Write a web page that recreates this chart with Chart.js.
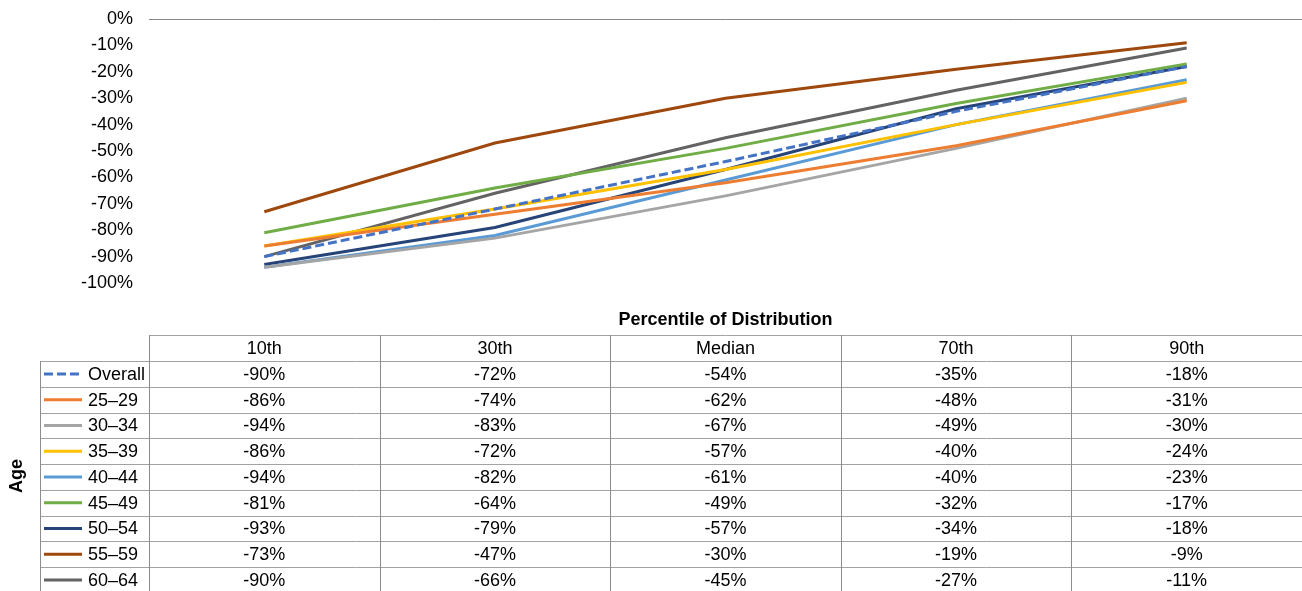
<!DOCTYPE html>
<html>
<head>
<meta charset="utf-8">
<title>Change by percentile and age</title>
<script src="https://cdn.jsdelivr.net/npm/chart.js@4.4.1/dist/chart.umd.min.js"></script>
<style>
  html, body { margin: 0; padding: 0; background: #fff; }
  #wrap { width: 1302px; height: 591px; }
</style>
</head>
<body>
<div id="wrap"><canvas id="ageChart" width="1302" height="591"></canvas></div>
<script>
// percentile columns and age rows
const percentiles = ['10th', '30th', 'Median', '70th', '90th'];
const ageGroups = ['Overall', '25–29', '30–34', '35–39', '40–44', '45–49', '50–54', '55–59', '60–64'];

const overall = [-0.90, -0.72, -0.54, -0.35, -0.18];
const age25to29 = [-0.86, -0.74, -0.62, -0.48, -0.31];
const age30to34 = [-0.94, -0.83, -0.67, -0.49, -0.30];
const age35to39 = [-0.86, -0.72, -0.57, -0.40, -0.24];
const age40to44 = [-0.94, -0.82, -0.61, -0.40, -0.23];
const age45to49 = [-0.81, -0.64, -0.49, -0.32, -0.17];
const age50to54 = [-0.93, -0.79, -0.57, -0.34, -0.18];
const age55to59 = [-0.73, -0.47, -0.30, -0.19, -0.09];
const age60to64 = [-0.90, -0.66, -0.45, -0.27, -0.11];

const yTicks = [0, -0.1, -0.2, -0.3, -0.4, -0.5, -0.6, -0.7, -0.8, -0.9, -1.0];

const seriesValues = [overall, age25to29, age30to34, age35to39, age40to44,
                      age45to49, age50to54, age55to59, age60to64];
const lineColors = ['#4472C4', '#ED7D31', '#A5A5A5', '#FFC000', '#5B9BD5',
                    '#70AD47', '#264478', '#9E480E', '#636363'];

const FONT = '"Liberation Sans", Arial, sans-serif';
const pct = v => Math.round(v * 100) + '%';

// Excel-style data table under the plot, aligned to the x scale bands
const dataTable = {
  id: 'dataTable',
  afterDraw(chart) {
    const ctx = chart.ctx;
    const xs = chart.scales.x;
    const area = chart.chartArea;
    const sets = chart.data.datasets;
    const band = (area.right - area.left) / percentiles.length;
    const titleY = 320, headTop = 335, headH = 26, rowH = 25.75, keyLeft = 40;
    const bodyTop = headTop + headH;
    const bottom = bodyTop + rowH * sets.length;
    const crisp = v => Math.round(v) + 0.5;

    ctx.save();
    ctx.fillStyle = '#000';
    ctx.textAlign = 'center';
    ctx.textBaseline = 'middle';
    ctx.font = 'bold 18px ' + FONT;
    ctx.fillText('Percentile of Distribution', (area.left + area.right) / 2, titleY);

    ctx.save();
    ctx.translate(17, (bodyTop + bottom) / 2 - 1);
    ctx.rotate(-Math.PI / 2);
    ctx.fillText('Age', 0, 0);
    ctx.restore();

    // row borders
    ctx.lineWidth = 1;
    ctx.strokeStyle = '#a3a3a3';
    ctx.beginPath();
    ctx.moveTo(area.left, crisp(headTop));
    ctx.lineTo(area.right, crisp(headTop));
    for (let i = 0; i <= sets.length; i++) {
      const y = crisp(bodyTop + i * rowH);
      ctx.moveTo(keyLeft, y);
      ctx.lineTo(area.right, y);
    }
    ctx.stroke();

    // column borders
    ctx.strokeStyle = '#8c8c8c';
    ctx.beginPath();
    ctx.moveTo(crisp(keyLeft), bodyTop);
    ctx.lineTo(crisp(keyLeft), bottom);
    for (let j = 0; j <= percentiles.length; j++) {
      const x = crisp(area.left + j * band);
      ctx.moveTo(x, headTop);
      ctx.lineTo(x, bottom);
    }
    ctx.stroke();

    // header + values
    ctx.font = '18px ' + FONT;
    percentiles.forEach((p, j) => {
      ctx.fillText(p, xs.getPixelForValue(j), headTop + headH / 2 + 1);
    });
    sets.forEach((ds, i) => {
      const cy = bodyTop + (i + 0.5) * rowH + 1;
      ds.data.forEach((v, j) => {
        ctx.fillText(pct(v), xs.getPixelForValue(j), cy);
      });

      // legend key
      ctx.save();
      ctx.strokeStyle = ds.borderColor;
      ctx.lineWidth = 3;
      ctx.setLineDash(ds.borderDash || []);
      ctx.beginPath();
      ctx.moveTo(44, cy - 1);
      ctx.lineTo(82, cy - 1);
      ctx.stroke();
      ctx.restore();

      ctx.textAlign = 'left';
      ctx.fillText(ds.label, 88, cy);
      ctx.textAlign = 'center';
    });
    ctx.restore();
  }
};

new Chart(document.getElementById('ageChart'), {
  type: 'line',
  data: {
    labels: percentiles,
    datasets: ageGroups.map((name, i) => ({
      label: name,
      data: seriesValues[i],
      borderColor: lineColors[i],
      backgroundColor: lineColors[i],
      borderWidth: 3,
      borderDash: i === 0 ? [9, 4] : [],
      pointRadius: 0,
      tension: 0,
      fill: false
    }))
  },
  options: {
    responsive: false,
    animation: false,
    layout: { padding: { top: 19, right: 0, bottom: 308, left: 0 } },
    plugins: {
      legend: { display: false },
      tooltip: { enabled: false }
    },
    scales: {
      x: { display: false, offset: true },
      y: {
        min: -1,
        max: 0,
        afterFit: scale => {
          scale.width = 149;
          scale.paddingTop = 0;
          scale.paddingBottom = 0;
        },
        afterBuildTicks: scale => { scale.ticks = yTicks.map(v => ({ value: v })); },
        border: { display: false },
        grid: {
          drawTicks: false,
          color: c => Math.abs(c.tick.value) < 1e-9 ? '#878787' : 'rgba(0,0,0,0)'
        },
        ticks: {
          padding: 16,
          color: '#000',
          font: { family: FONT, size: 18 },
          callback: v => pct(v)
        }
      }
    }
  },
  plugins: [dataTable]
});
</script>
</body>
</html>
